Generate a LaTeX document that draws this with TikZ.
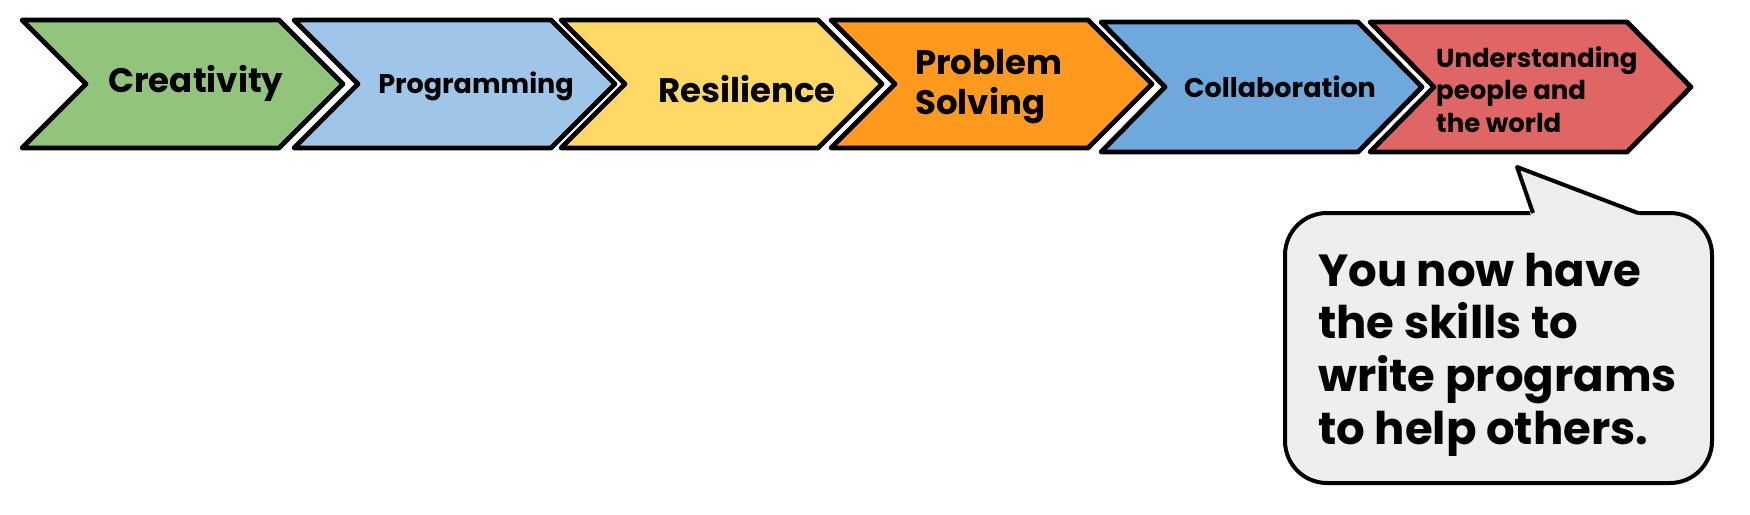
\documentclass[tikz,border=0pt]{standalone}
\usepackage{fontspec}
\setmainfont{Poppins}
\definecolor{cgreen}{HTML}{93C47D}
\definecolor{clblue}{HTML}{9FC5E8}
\definecolor{cyellow}{HTML}{FFD966}
\definecolor{corange}{HTML}{FF9A1E}
\definecolor{cblue}{HTML}{6FA8DC}
\definecolor{cred}{HTML}{E06666}
\definecolor{cbubble}{HTML}{EEEEEE}
\newcommand\chevshape[4]{\draw[chev,fill=#4] (#1,#2) -- ++(257,0) -- ++(64,#3) -- ++(-64,#3) -- ++(-257,0) -- ++(64,-#3) -- cycle;}
\begin{document}
\begin{tikzpicture}[x=1pt,y=-1pt,
  chev/.style={draw=black, line width=4.8pt, line join=round},
  big/.style={font=\bfseries\fontsize{34}{40}\selectfont, inner sep=0pt},
  small/.style={font=\bfseries\fontsize{27}{32.5}\selectfont, inner sep=0pt},
  bubble/.style={draw=black, line width=4pt, fill=cbubble, rounded corners=42pt, line join=round}]
\useasboundingbox (0,0) rectangle (1750,514);
\chevshape{22}{20}{64}{cgreen}
\chevshape{294}{20}{64}{clblue}
\chevshape{561}{20}{64}{cyellow}
\chevshape{831}{20}{64}{corange}
\chevshape{1101}{22}{65}{cblue}
\chevshape{1370}{22}{65}{cred}
\node[big, anchor=base] (creativity) at (196,92) {Creativity};
\node[small, anchor=base] (programming) at (476,93) {Programming};
\node[big, anchor=base] (resilience) at (747,102) {Resilience};
\node[big, anchor=north west, align=left] (problem) at (915,49) {Problem\\Solving};
\node[small, anchor=base] (collab) at (1280,97) {Collaboration};
\node[anchor=north west, align=left, inner sep=0pt, font=\bfseries\fontsize{26}{32.5}\selectfont] (understanding) at (1436,46) {Understanding\\people and\\the world};
% speech bubble
\draw[bubble] (1285,213) rectangle (1712,483);
\fill[cbubble] (1531,216) -- (1517,167) -- (1641,216) -- cycle;
\draw[draw=black, line width=4pt, line join=round] (1533,213) -- (1517,167) -- (1638,213);
\node[anchor=north west, align=left, inner sep=0pt, font=\bfseries\fontsize{45}{52.7}\selectfont] (msg) at (1318,252.5) {You now have\\the skills to\\write programs\\to help others.};
\end{tikzpicture}
\end{document}
